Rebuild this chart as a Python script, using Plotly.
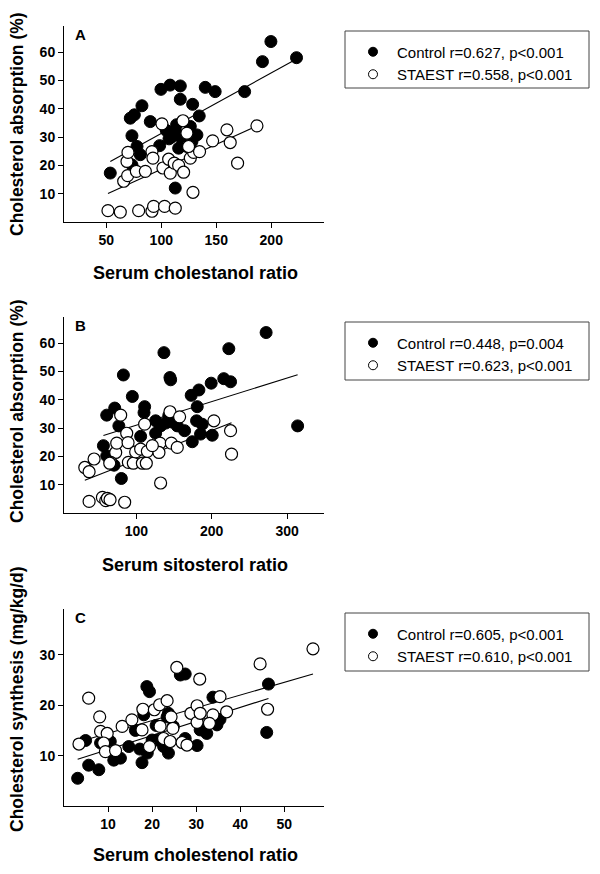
import plotly.graph_objects as go
import numpy as np

# ---------------- Panel A: cholestanol vs absorption ----------------
a_ctrl_x = [53.6, 199.7, 192, 223, 175.8, 140, 149, 99.7, 108, 117.3, 117.3, 128.5,
            82.4, 71.8, 75.5, 90, 134.5, 73.3, 77.9, 80.9, 98.5, 73.3, 112.7,
            104.5, 109.1, 113, 117.3, 119.7, 115.8, 123.3, 127.9, 132.4, 126.4, 113.9, 107]
a_ctrl_y = [17.3, 63.8, 56.7, 58.1, 46.1, 47.6, 46.1, 46.9, 48.4, 48.1, 43.4, 41.6,
            41.1, 36.7, 37.9, 35.5, 37.5, 30.5, 26.7, 23.8, 27.0, 20.2, 12.0,
            32.4, 30.0, 32.0, 30.2, 28.1, 26.1, 26.7, 28.5, 30.8, 33.8, 34.4, 29.4]
a_sta_x = [51.5, 62.7, 79.4, 91.5, 93, 103, 112.7, 128.8, 65.8, 69.4, 68.8, 69.7,
           77.3, 85.5, 91.5, 92.4, 101.5, 106.7, 108.2, 111.8, 115.8, 120.3, 100.6,
           119.7, 123.3, 126.4, 129.4, 134.8, 146.7, 159.7, 162.7, 169.4, 187, 124.8]
a_sta_y = [4.0, 3.5, 4.0, 3.8, 5.5, 5.5, 4.9, 10.5, 14.4, 16.4, 21.4, 24.6,
           17.9, 17.9, 24.9, 22.6, 19.1, 22.2, 17.3, 20.8, 20.0, 17.6, 34.7,
           35.8, 31.4, 22.6, 24.6, 24.9, 28.7, 32.6, 28.1, 20.8, 34.0, 26.7]
a_fit_ctrl = (9.9, 0.214)     # intercept, slope
a_fit_sta = (1.05, 0.176)
a_labels = ["Control r=0.627, p<0.001", "STAEST r=0.558, p<0.001"]

# ---------------- Panel B: sitosterol vs absorption ----------------
b_ctrl_x = [272.2, 136.6, 222.7, 82.8, 144.6, 145.5, 199.3, 216, 225, 183, 172.8,
            94.7, 71.3, 60.7, 111, 110.2, 76.8, 180.8, 314, 105.7, 56.3, 60.7,
            70.4, 80.1, 125.6, 132.2, 125.6, 138.9, 146.4, 154.3, 164, 174.2,
            179.9, 187.4, 185.2, 200.7, 143]
b_ctrl_y = [63.8, 56.7, 58.1, 48.8, 47.9, 47.1, 45.9, 47.5, 46.4, 43.5, 41.6,
            41.2, 37.1, 34.6, 37.6, 35.5, 30.8, 37.6, 30.8, 27.1, 23.8, 20.2,
            16.9, 12.2, 32.6, 30.8, 28.2, 31.8, 32.2, 30.8, 29.1, 25.2,
            32.6, 31.4, 27.9, 27.5, 34.4]
b_sta_x = [31.6, 37.3, 43.9, 37.3, 55, 59.4, 61.6, 65.1, 84.5, 132.2, 72.6, 74,
           66, 64.7, 79.2, 87.2, 89, 89.4, 96, 99.1, 105.7, 111, 108, 113.2,
           114.6, 131.3, 130, 144.6, 146.4, 154.3, 157.4, 202.9, 225, 226.3, 121.2]
b_sta_y = [16.1, 14.6, 19.1, 4.1, 5.5, 4.4, 5.2, 4.7, 3.8, 10.6, 21.4, 24.7,
           17.9, 17.6, 34.6, 28.2, 24.9, 17.9, 17.6, 21.6, 22.6, 31.4, 17.6, 17.6,
           21.8, 24.7, 21.4, 35.8, 24.7, 23.2, 34.0, 32.6, 29.1, 20.8, 23.8]
b_fit_ctrl = (22.7, 0.0834)
b_fit_sta = (8.3, 0.1043)
b_labels = ["Control r=0.448, p=0.004", "STAEST r=0.623, p<0.001"]

# ---------------- Panel C: cholestenol vs synthesis ----------------
c_ctrl_x = [3.1, 5.6, 7.9, 4.9, 8.3, 10.5, 11.3, 12.8, 14.7, 16.2, 17.2, 17.7,
            18.9, 20.0, 18.8, 19.4, 18.1, 20.9, 22.6, 23.7, 23.4, 23.7, 26.4,
            27.5, 27.5, 30.2, 30.9, 32.4, 33.8, 34.7, 35.4, 46.4, 46.0, 24.8, 21.1]
c_ctrl_y = [5.5, 8.1, 7.2, 13.0, 12.5, 12.8, 9.1, 9.5, 11.8, 15.0, 11.3, 8.6,
            10.5, 13.1, 23.7, 22.7, 18.1, 16.0, 11.8, 10.5, 17.7, 18.4, 26.0,
            26.2, 13.4, 12.0, 15.1, 14.4, 21.6, 16.1, 17.2, 24.2, 14.6, 15.8, 13.1]
c_sta_x = [3.4, 5.6, 8.1, 8.3, 9.8, 9.0, 9.4, 11.7, 13.2, 15.4, 17.9, 17.7,
           19.4, 20.5, 21.7, 23.4, 21.8, 22.6, 24.1, 24.3, 24.7, 25.6, 26.8,
           27.9, 28.8, 30.2, 30.2, 30.8, 30.9, 33.8, 35.4, 36.9, 44.5, 46.2, 56.5, 33.0]
c_sta_y = [12.3, 21.4, 17.7, 14.8, 14.4, 12.5, 10.8, 11.0, 15.8, 17.1, 19.2, 15.1,
           11.8, 19.1, 20.1, 20.9, 15.8, 13.4, 12.8, 17.7, 15.4, 27.5, 12.6,
           12.1, 18.4, 19.9, 16.6, 25.2, 18.4, 18.1, 21.7, 18.7, 28.2, 19.2, 31.2, 16.4]
c_fit_ctrl = (8.4, 0.279)
c_fit_sta = (11.9, 0.253)
c_labels = ["Control r=0.605, p<0.001", "STAEST r=0.610, p<0.001"]

# page body has an 8px margin: the figure sits at (8, 8) in the window
OFF = 8
W, H = 600 - OFF, 874 - OFF
FONT = "Liberation Sans, Arial, sans-serif"


def px(x):
    return (x - OFF) / W


def py(y):
    return 1 - (y - OFF) / H


panels = [
    dict(cx=a_ctrl_x, cy=a_ctrl_y, sx=a_sta_x, sy=a_sta_y, fc=a_fit_ctrl, fs=a_fit_sta,
         labels=a_labels, xr=[11.5, 248], yr=[0, 69.3], xt=[50, 100, 150, 200],
         yt=[10, 20, 30, 40, 50, 60], top=26, bot=222, letter="A",
         xtitle="Serum cholestanol ratio", ytitle="Cholesterol absorption (%)",
         ytc=124, xty=273, leg_top=31, leg_bot=88),
    dict(cx=b_ctrl_x, cy=b_ctrl_y, sx=b_sta_x, sy=b_sta_y, fc=b_fit_ctrl, fs=b_fit_sta,
         labels=b_labels, xr=[4, 349], yr=[0, 69.3], xt=[100, 200, 300],
         yt=[10, 20, 30, 40, 50, 60], top=317, bot=513, letter="B",
         xtitle="Serum sitosterol ratio", ytitle="Cholesterol absorption (%)",
         ytc=411, xty=565, leg_top=322, leg_bot=380),
    dict(cx=c_ctrl_x, cy=c_ctrl_y, sx=c_sta_x, sy=c_sta_y, fc=c_fit_ctrl, fs=c_fit_sta,
         labels=c_labels, xr=[0, 59], yr=[0, 39.1], xt=[10, 20, 30, 40, 50],
         yt=[10, 20, 30], top=609, bot=806, letter="C",
         xtitle="Serum cholestenol ratio", ytitle="Cholesterol synthesis (mg/kg/d)",
         ytc=700, xty=855, leg_top=613, leg_bot=671),
]

fig = go.Figure()
annotations = []
shapes = []
layout_axes = {}

for i, p in enumerate(panels):
    n = i + 1
    xa = "x" if n == 1 else f"x{n}"
    ya = "y" if n == 1 else f"y{n}"
    legname = "legend" if n == 1 else f"legend{n}"

    # regression lines
    for (b0, b1), xs in ((p["fc"], p["cx"]), (p["fs"], p["sx"])):
        lx = np.array([min(xs), max(xs)])
        fig.add_trace(go.Scatter(x=lx, y=b0 + b1 * lx, mode="lines",
                                 line=dict(color="black", width=1.1),
                                 xaxis=xa, yaxis=ya, showlegend=False, hoverinfo="skip"))
    # data points
    fig.add_trace(go.Scatter(x=p["cx"], y=p["cy"], mode="markers", name=p["labels"][0],
                             marker=dict(size=12, color="black",
                                         line=dict(color="black", width=1)),
                             xaxis=xa, yaxis=ya, showlegend=False))
    fig.add_trace(go.Scatter(x=p["sx"], y=p["sy"], mode="markers", name=p["labels"][1],
                             marker=dict(size=12, color="white",
                                         line=dict(color="black", width=1.2)),
                             xaxis=xa, yaxis=ya, showlegend=False))
    # legend entries
    fig.add_trace(go.Scatter(x=[None], y=[None], mode="markers", name=p["labels"][0],
                             marker=dict(size=9, color="black",
                                         line=dict(color="black", width=1)),
                             xaxis=xa, yaxis=ya, legend=legname))
    fig.add_trace(go.Scatter(x=[None], y=[None], mode="markers", name=p["labels"][1],
                             marker=dict(size=9, color="white",
                                         line=dict(color="black", width=1)),
                             xaxis=xa, yaxis=ya, legend=legname))

    axis_common = dict(showline=True, linecolor="black", linewidth=1, ticks="outside",
                       ticklen=5, tickwidth=1, tickcolor="black", showgrid=False,
                       zeroline=False, tickfont=dict(family=FONT, size=14, color="black",
                                                     weight="bold"))
    layout_axes["xaxis" if n == 1 else f"xaxis{n}"] = dict(
        axis_common, domain=[px(64), px(324)], range=p["xr"], tickvals=p["xt"],
        anchor=ya)
    layout_axes["yaxis" if n == 1 else f"yaxis{n}"] = dict(
        axis_common, domain=[py(p["bot"]), py(p["top"])], range=p["yr"],
        tickvals=p["yt"], anchor=xa)

    layout_axes[legname] = dict(
        x=px(349), y=py(p["leg_top"] + 4.5), xanchor="left", yanchor="top",
        bgcolor="rgba(0,0,0,0)", borderwidth=0, tracegroupgap=0, itemwidth=38,
        font=dict(family=FONT, size=15, color="black"))

    shapes.append(dict(type="rect", xref="paper", yref="paper",
                       x0=px(345), x1=px(589), y0=py(p["leg_bot"]), y1=py(p["leg_top"]),
                       line=dict(color="#444444", width=1)))

    annotations.append(dict(text=p["letter"], xref="paper", yref="paper",
                            x=px(73), y=py(p["top"] + 8), xanchor="left", yanchor="middle",
                            showarrow=False,
                            font=dict(family=FONT, size=15, color="black", weight="bold")))
    annotations.append(dict(text=p["xtitle"], xref="paper", yref="paper",
                            x=px(195), y=py(p["xty"]), xanchor="center", yanchor="middle",
                            showarrow=False,
                            font=dict(family=FONT, size=18, color="black", weight="bold")))
    annotations.append(dict(text=p["ytitle"], xref="paper", yref="paper",
                            x=px(17), y=py(p["ytc"]), xanchor="center", yanchor="middle",
                            textangle=-90, showarrow=False,
                            font=dict(family=FONT, size=17.5, color="black", weight="bold")))

fig.update_layout(
    width=W, height=H, autosize=False,
    margin=dict(l=0, r=0, t=0, b=0),
    paper_bgcolor="white", plot_bgcolor="white",
    annotations=annotations, shapes=shapes,
    **layout_axes,
)

fig.write_html("out.html")
